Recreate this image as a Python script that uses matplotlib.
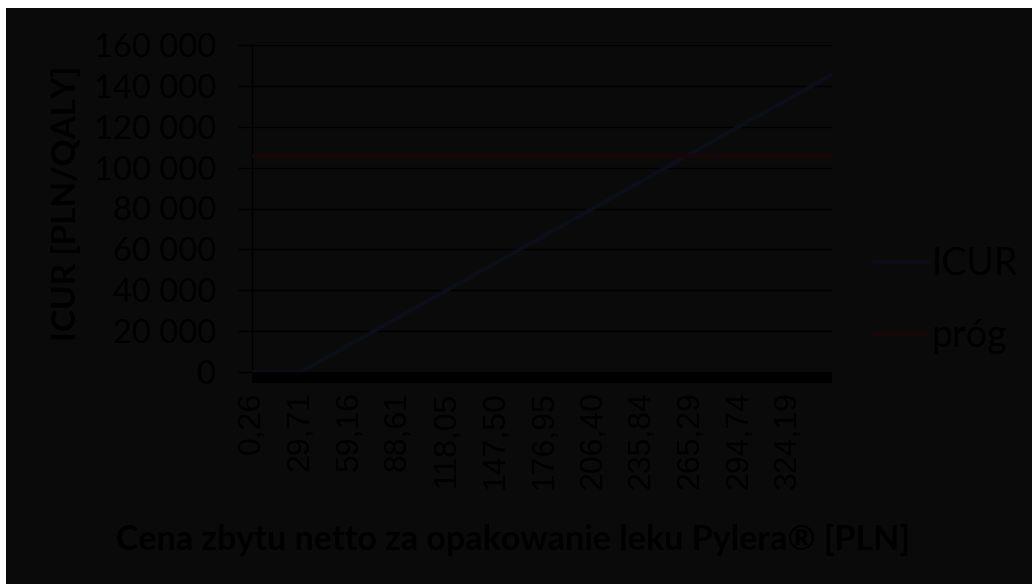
import matplotlib.pyplot as plt
from matplotlib.patches import Rectangle
from matplotlib.ticker import FuncFormatter

# category labels on the price axis [PLN]
price_ticks = [0.26, 29.71, 59.16, 88.61, 118.05, 147.50, 176.95,
               206.40, 235.84, 265.29, 294.74, 324.19]
price_max = 351.0

# ICUR series: zero (dominant) up to ~29.71 PLN, then linear
icur_price = [0.26, 29.71, 351.0]
icur_value = [0, 0, 145500]

# threshold (próg) [PLN/QALY]
prog_value = 105801

BG = '#0a0a0a'
TXT = '#000000'
W, H = 1032, 584

fig = plt.figure(figsize=(W / 100, H / 100), dpi=100, facecolor='white')
fig.patches.append(Rectangle((6 / W, 0), 1 - 6 / W, 1 - 8 / H,
                             transform=fig.transFigure, facecolor=BG,
                             edgecolor='none', zorder=-10))

left, right, top, bottom = 252, 832, 45, 372
ax = fig.add_axes([left / W, 1 - bottom / H, (right - left) / W, (bottom - top) / H])
ax.set_facecolor(BG)
ax.patch.set_alpha(0)

ax.plot(icur_price, icur_value, color='#0a0e19', lw=2.8, label='ICUR',
        solid_capstyle='round', zorder=3)
ax.plot([price_ticks[0], price_max], [prog_value, prog_value], color='#180606',
        lw=2.8, label='próg', zorder=3)

ax.set_xlim(price_ticks[0], price_max)
ax.set_ylim(0, 160000)
ax.set_yticks(range(0, 160001, 20000))
ax.yaxis.set_major_formatter(FuncFormatter(lambda v, p: f'{int(v):,}'.replace(',', ' ')))
ax.set_xticks(price_ticks)
ax.set_xticklabels([f'{v:.2f}'.replace('.', ',') for v in price_ticks],
                   rotation=90, family='Liberation Sans', fontsize=23, color=TXT)
for t in ax.get_yticklabels():
    t.set_family('Lato')
    t.set_fontsize(23.5)
    t.set_color(TXT)

ax.grid(axis='y', color='black', lw=1)
ax.tick_params(axis='y', length=10, width=1, color='black', pad=16)
ax.tick_params(axis='x', length=0, pad=14)
for s in ['top', 'right', 'bottom']:
    ax.spines[s].set_visible(False)
ax.spines['left'].set_color('black')
ax.spines['left'].set_linewidth(1)

# thick axis band under zero
ax.add_patch(Rectangle((0, -11 / (bottom - top)), 1, 11 / (bottom - top),
                       transform=ax.transAxes, facecolor='black',
                       edgecolor='none', clip_on=False, zorder=2))

fig.text(66 / W, 1 - 203 / H, 'ICUR [PLN/QALY]', rotation=90, ha='center', va='center',
         family='Lato', fontweight='bold', fontsize=24, color=TXT)
fig.text(513 / W, 1 - 540 / H, 'Cena zbytu netto za opakowanie leku Pylera® [PLN]',
         ha='center', va='center', family='Lato', fontweight='bold', fontsize=24.5, color=TXT)

leg = ax.legend(loc='center left', bbox_to_anchor=(866 / W, 1 - 300 / H),
                bbox_transform=fig.transFigure, frameon=False,
                handlelength=1.45, handletextpad=0.1, labelspacing=0.95,
                borderaxespad=0, borderpad=0.2,
                prop={'family': 'Lato', 'size': 27})
for t in leg.get_texts():
    t.set_color(TXT)

fig.savefig('out.png', dpi=100, facecolor='white')
